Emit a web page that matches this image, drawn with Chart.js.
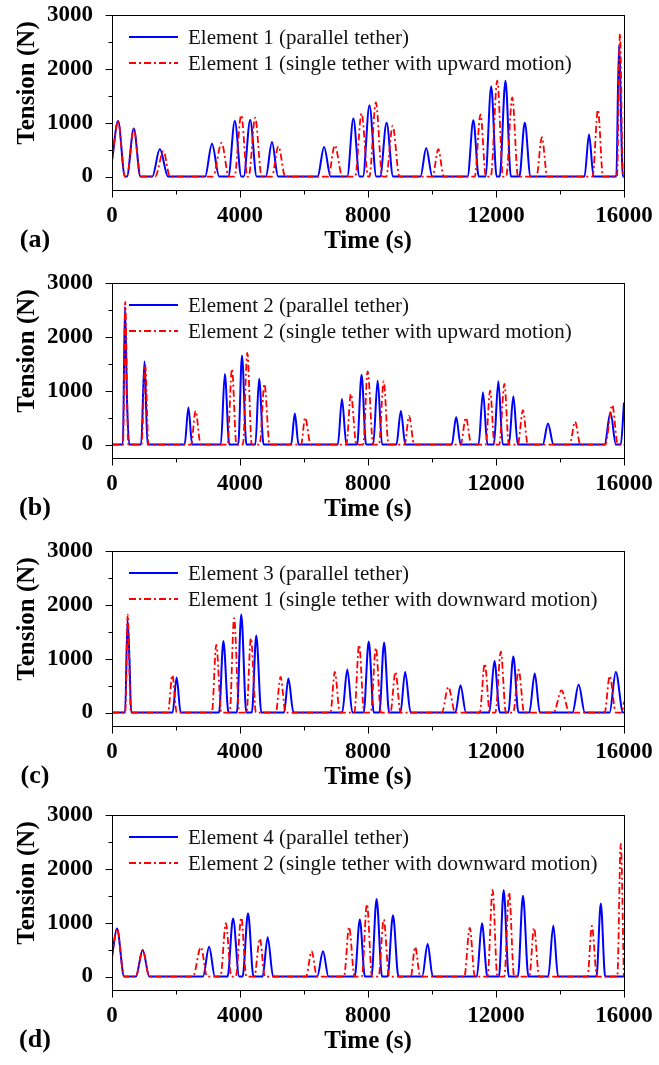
<!DOCTYPE html>
<html><head><meta charset="utf-8">
<script src="https://cdn.jsdelivr.net/npm/chart.js@4.4.0/dist/chart.umd.min.js"></script>
<style>
html,body{margin:0;padding:0;background:#fff;overflow:hidden;width:659px;height:1065px;}
.panel{position:absolute;left:0;width:659px;height:265px;}
</style></head><body>
<div class="panel" style="top:0px"><canvas id="c0"></canvas></div>
<div class="panel" style="top:268px"><canvas id="c1"></canvas></div>
<div class="panel" style="top:536px"><canvas id="c2"></canvas></div>
<div class="panel" style="top:800px"><canvas id="c3"></canvas></div>
<script>
// ---- axis / label data ----
const xTicks = [0, 4000, 8000, 12000, 16000];
const xMinorTicks = [2000, 6000, 10000, 14000];
const yTicks = [0, 1000, 2000, 3000];
const yMinorTicks = [500, 1500, 2500];
const xTitle = 'Time (s)';
const yTitle = 'Tension (N)';
const panelLabels = ['(a)', '(b)', '(c)', '(d)'];
const blueNames = ['Element 1 (parallel tether)', 'Element 2 (parallel tether)', 'Element 3 (parallel tether)', 'Element 4 (parallel tether)'];
const redNames = ['Element 1 (single tether with upward motion)', 'Element 2 (single tether with upward motion)', 'Element 1 (single tether with downward motion)', 'Element 2 (single tether with downward motion)'];

// ---- panel (a) ----
const aBlueT = [0,190,405, 465,681,890, 1260,1495,1750, 2910,3124,3350, 3636,3838,4040, 4116,4318,4520, 4808,4999,5190, 6425,6628,6830, 7352,7543,7734, 7843,8045,8258, 8378,8581,8783, 9640,9819,10010, 11112,11292,11461, 11670,11850,12019, 12116,12296,12465, 12730,12899,13079, 14765,14907,15050, 15760,15843,15965, 16000];
const aBlueV = [300,1030,0, 0,890,0, 0,510,0, 0,610,0, 0,1030,0, 0,1050,0, 0,640,0, 0,550,0, 0,1080,0, 0,1325,0, 0,1000,0, 0,530,0, 0,1045,0, 0,1675,0, 0,1780,0, 0,1000,0, 0,780,0, 0,2430,0, 0];
const aRedT = [0,190,405, 465,681,890, 1350,1607,1810, 3155,3425,3650, 3826,4039,4230, 4272,4474,4677, 4997,5200,5413, 6760,6963,7198, 7597,7799,8002, 8043,8246,8448, 8568,8770,8984, 10018,10198,10367, 11335,11515,11684, 11837,12040,12220, 12317,12508,12688, 13265,13434,13603, 15017,15186,15344, 15780,15874,15968, 16000];
const aRedV = [300,1030,0, 0,890,0, 0,470,0, 0,625,0, 0,1140,0, 0,1095,0, 0,560,0, 0,580,0, 0,1175,0, 0,1375,0, 0,940,0, 0,510,0, 0,1155,0, 0,1780,0, 0,1470,0, 0,730,0, 0,1240,0, 0,2650,0, 0];

// ---- panel (b) ----
const bBlueT = [0, 340,405,470,540, 910,1015,1110, 2270,2388,2505, 3400,3526,3665, 3945,4062,4200, 4480,4597,4737, 5597,5713,5830, 7058,7186,7325, 7660,7799,7939, 8162,8302,8440, 8888,9027,9165, 10618,10756,10895, 11455,11593,11732, 11934,12073,12212, 12403,12542,12680, 13463,13624,13796, 15393,15576,15748, 15900,16000];
const bBlueV = [0, 0,2560,800,0, 0,1545,0, 0,690,0, 0,1310,0, 0,1655,0, 0,1220,0, 0,575,0, 0,845,0, 0,1295,0, 0,1190,0, 0,625,0, 0,510,0, 0,970,0, 0,1175,0, 0,895,0, 0,390,0, 0,595,0, 0,780];
const bRedT = [0, 345,413,510, 920,1038,1140, 2472,2611,2772, 3610,3749,3888, 4090,4229,4367, 4615,4764,4925, 5909,6036,6208, 7326,7465,7637, 7851,7989,8161, 8342,8491,8641, 9145,9283,9444, 10897,11058,11230, 11678,11816,11955, 12102,12263,12401, 12682,12843,12993, 14300,14472,14633, 15416,15633,15805, 16000];
const bRedV = [0, 0,2650,0, 0,1490,0, 0,625,0, 0,1405,0, 0,1700,0, 0,1125,0, 0,500,0, 0,940,0, 0,1360,0, 0,1175,0, 0,530,0, 0,500,0, 0,1000,0, 0,1125,0, 0,640,0, 0,425,0, 0,735,0, 0];

// ---- panel (c) ----
const cBlueT = [0, 410,485,545,600, 1894,2020,2145, 3345,3481,3640, 3903,4039,4198, 4371,4508,4667, 5375,5512,5671, 7194,7353,7512, 7864,8023,8181, 8355,8502,8661, 9013,9161,9331, 10731,10890,11060, 11791,11950,12120, 12383,12542,12701, 13041,13211,13370, 14391,14583,14776, 15551,15744,15970, 16000];
const cBlueV = [0, 0,1725,1000,0, 0,650,0, 0,1330,0, 0,1820,0, 0,1430,0, 0,630,0, 0,800,0, 0,1320,0, 0,1300,0, 0,755,0, 0,505,0, 0,955,0, 0,1040,0, 0,725,0, 0,520,0, 0,755,0, 0];
const cRedT = [0, 415,490,590, 1749,1886,2022, 3122,3258,3417, 3679,3816,3975, 4204,4340,4499, 5119,5267,5425, 6826,6963,7121, 7574,7721,7880, 8087,8246,8405, 8701,8859,9018, 10307,10511,10726, 11490,11649,11808, 11981,12151,12310, 12539,12709,12879, 13800,14048,14296, 15395,15554,15746, 15930, 16000];
const cRedV = [0, 0,1820,0, 0,695,0, 0,1255,0, 0,1755,0, 0,1380,0, 0,660,0, 0,755,0, 0,1255,0, 0,1205,0, 0,755,0, 0,475,0, 0,910,0, 0,1130,0, 0,790,0, 0,410,0, 0,680,0, 0, 200];

// ---- panel (d) ----
const dBlueT = [0,156,380, 745,960,1165, 2843,3035,3216, 3612,3783,3975, 4081,4251,4421, 4706,4865,5035, 6413,6594,6764, 7585,7744,7903, 8109,8268,8438, 8611,8781,8951, 9694,9864,10023, 11401,11560,11730, 12092,12240,12399, 12684,12843,13013, 13632,13791,13939, 15139,15275,15412, 16000];
const dBlueV = [375,890,0, 0,495,0, 0,555,0, 0,1080,0, 0,1175,0, 0,730,0, 0,470,0, 0,1060,0, 0,1440,0, 0,1140,0, 0,605,0, 0,990,0, 0,1605,0, 0,1500,0, 0,950,0, 0,1355,0, 0];
const dRedT = [0,156,380, 745,960,1165, 2530,2778,2971, 3389,3559,3729, 3869,4039,4198, 4449,4619,4778, 6067,6237,6407, 7250,7409,7579, 7808,7967,8126, 8332,8491,8661, 9337,9473,9632, 11010,11180,11339, 11735,11894,12042, 12260,12408,12567, 13041,13189,13348, 14860,14996,15155, 15790,15900,15995];
const dRedV = [375,890,0, 0,495,0, 0,545,0, 0,990,0, 0,1095,0, 0,705,0, 0,470,0, 0,920,0, 0,1345,0, 0,1060,0, 0,550,0, 0,905,0, 0,1610,0, 0,1560,0, 0,905,0, 0,940,0, 0,2470,0];

const blueT = [aBlueT, bBlueT, cBlueT, dBlueT];
const blueV = [aBlueV, bBlueV, cBlueV, dBlueV];
const redT = [aRedT, bRedT, cRedT, dRedT];
const redV = [aRedV, bRedV, cRedV, dRedV];

const SERIF = "'Liberation Serif','Times New Roman',serif";
const BLUE = '#0000ff', RED = '#ff0000', RED_DASH = [7, 3, 2, 3];

function pts(T, V) { return T.map((t, i) => ({ x: t, y: V[i] })); }

const decor = {
  id: 'decor',
  afterDraw(chart, args, opts) {
    const { ctx, chartArea: a, scales: { x, y } } = chart;
    ctx.save();
    ctx.strokeStyle = '#000'; ctx.lineWidth = 1;
    const L = Math.round(a.left) + 0.5, R = Math.round(a.right) + 0.5;
    const T = Math.round(a.top) + 0.5, B = Math.round(a.bottom) + 0.5;
    ctx.strokeRect(L, T, R - L, B - T);
    ctx.beginPath();
    xTicks.forEach(v => { const p = Math.round(x.getPixelForValue(v)) + 0.5; ctx.moveTo(p, B); ctx.lineTo(p, B + 7); });
    xMinorTicks.forEach(v => { const p = Math.round(x.getPixelForValue(v)) + 0.5; ctx.moveTo(p, B); ctx.lineTo(p, B + 4); });
    yTicks.forEach(v => { const p = Math.round(y.getPixelForValue(v)) + 0.5; ctx.moveTo(L, p); ctx.lineTo(L - 7, p); });
    yMinorTicks.forEach(v => { const p = Math.round(y.getPixelForValue(v)) + 0.5; ctx.moveTo(L, p); ctx.lineTo(L - 4, p); });
    ctx.stroke();

    // legend (inside plot)
    const ds = chart.data.datasets;
    const rows = [ds[1], ds[0]];
    rows.forEach((d, i) => {
      const yy = a.top + 22 + i * 26;
      ctx.beginPath();
      ctx.strokeStyle = d.borderColor; ctx.lineWidth = 2;
      ctx.setLineDash(d.borderDash || []);
      ctx.moveTo(a.left + 17, yy); ctx.lineTo(a.left + 66, yy); ctx.stroke();
      ctx.setLineDash([]);
      ctx.fillStyle = '#111';
      ctx.font = '21px ' + SERIF;
      ctx.textAlign = 'left'; ctx.textBaseline = 'middle';
      ctx.fillText(d.label, a.left + 76, yy + 1);
    });

    // y title
    ctx.save();
    ctx.translate(28, a.top + 68);
    ctx.rotate(-Math.PI / 2);
    ctx.fillStyle = '#000';
    ctx.font = 'bold 25px ' + SERIF;
    ctx.textAlign = 'center'; ctx.textBaseline = 'middle';
    ctx.fillText(yTitle, 0, 0);
    ctx.restore();

    // panel label
    ctx.fillStyle = '#000';
    ctx.font = 'bold 26px ' + SERIF;
    ctx.textAlign = 'center'; ctx.textBaseline = 'middle';
    ctx.fillText(opts.label, 35, a.top + 225);
    ctx.restore();
  }
};

for (let i = 0; i < 4; i++) {
  new Chart(document.getElementById('c' + i), {
    type: 'line',
    data: {
      datasets: [
        { label: redNames[i], data: pts(redT[i], redV[i]), borderColor: RED, borderWidth: 1.8, borderDash: RED_DASH,
          pointRadius: 0, cubicInterpolationMode: 'monotone', fill: false, order: 0 },
        { label: blueNames[i], data: pts(blueT[i], blueV[i]), borderColor: BLUE, borderWidth: 2,
          pointRadius: 0, cubicInterpolationMode: 'monotone', fill: false, order: 1 }
      ]
    },
    options: {
      responsive: true, maintainAspectRatio: false, animation: false,
      layout: { padding: { top: 15, right: 35, left: 0, bottom: 0 } },
      plugins: { legend: { display: false }, tooltip: { enabled: false }, decor: { label: panelLabels[i] } },
      scales: {
        x: {
          type: 'linear', min: 0, max: 16000,
          grid: { display: false }, border: { display: false },
          afterBuildTicks: s => { s.ticks = xTicks.map(v => ({ value: v })); },
          afterFit: s => { s.height = 75; s.paddingLeft = 0; s.paddingRight = 0; },
          ticks: { color: '#000', padding: 4, maxRotation: 0, font: { family: SERIF, size: 23, weight: 'bold' }, callback: v => String(v) },
          title: { display: true, text: xTitle, color: '#000', font: { family: SERIF, size: 25, weight: 'bold' }, padding: { top: 0, bottom: 8 } }
        },
        y: {
          type: 'linear', min: -250, max: 3000,
          grid: { display: false }, border: { display: false },
          afterBuildTicks: s => { s.ticks = yTicks.map(v => ({ value: v })); },
          afterFit: s => { s.width = 112; s.paddingTop = 0; s.paddingBottom = 0; },
          ticks: { color: '#000', padding: 11, font: { family: SERIF, size: 23, weight: 'bold' }, callback: v => String(v) }
        }
      }
    },
    plugins: [decor]
  });
}
</script>
</body></html>
